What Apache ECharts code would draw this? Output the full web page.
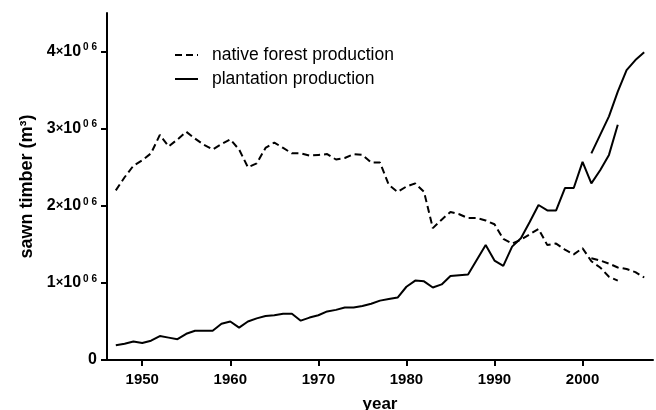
<!DOCTYPE html>
<html>
<head>
<meta charset="utf-8">
<script src="https://cdn.jsdelivr.net/npm/echarts@6/dist/echarts.min.js"></script>
<style>
  html, body { margin: 0; padding: 0; background: #fff; }
  #main { width: 656px; height: 410px; }
</style>
</head>
<body>
<div id="main"></div>
<script>
// years and values (m3)
const nativeYears = [1947,1948,1949,1950,1951,1952,1953,1954,1955,1956,1957,1958,1959,1960,
  1961,1962,1963,1964,1965,1966,1967,1968,1969,1970,1971,1972,1973,1974,1975,1976,1977,1978,
  1979,1980,1981,1982,1983,1984,1985,1986,1987,1988,1989,1990,1991,1992,1993,1994,1995,1996,
  1997,1998,1999,2000,2001,2002,2003,2004];
const nativeValues = [2.20,2.37,2.52,2.59,2.68,2.92,2.77,2.86,2.96,2.87,2.79,2.73,2.80,2.86,
  2.73,2.50,2.55,2.75,2.82,2.75,2.68,2.68,2.65,2.66,2.67,2.60,2.62,2.67,2.66,2.56,2.56,2.27,
  2.18,2.25,2.29,2.18,1.71,1.82,1.92,1.89,1.84,1.84,1.81,1.76,1.57,1.51,1.56,1.63,1.70,1.49,
  1.51,1.43,1.37,1.45,1.28,1.20,1.08,1.03];
// second source, overlapping the last years
const nativeYears2 = [2001,2002,2003,2004,2005,2006,2007];
const nativeValues2 = [1.32,1.29,1.25,1.20,1.18,1.14,1.07];

const plantYears = [1947,1948,1949,1950,1951,1952,1953,1954,1955,1956,1957,1958,1959,1960,
  1961,1962,1963,1964,1965,1966,1967,1968,1969,1970,1971,1972,1973,1974,1975,1976,1977,1978,
  1979,1980,1981,1982,1983,1984,1985,1986,1987,1988,1989,1990,1991,1992,1993,1994,1995,1996,
  1997,1998,1999,2000,2001,2002,2003,2004];
const plantValues = [0.19,0.21,0.24,0.22,0.25,0.31,0.29,0.27,0.34,0.38,0.38,0.38,0.47,0.50,
  0.42,0.50,0.54,0.57,0.58,0.60,0.60,0.51,0.55,0.58,0.63,0.65,0.68,0.68,0.70,0.73,0.77,0.79,
  0.81,0.95,1.03,1.02,0.94,0.98,1.09,1.10,1.11,1.30,1.49,1.29,1.22,1.47,1.58,1.79,2.01,1.94,
  1.94,2.23,2.23,2.57,2.29,2.46,2.66,3.05];
const plantYears2 = [2001,2002,2003,2004,2005,2006,2007];
const plantValues2 = [2.68,2.92,3.16,3.48,3.76,3.89,3.99];

const yearTicks = [1950,1960,1970,1980,1990,2000];
const valueTicks = [0,1e6,2e6,3e6,4e6];

const pairs = (xs, ys) => xs.map((x, i) => [x, ys[i] * 1e6]);

const chart = echarts.init(document.getElementById('main'));
const font = 'Arial, "Liberation Sans", sans-serif';

const option = {
  animation: false,
  grid: { left: 107, right: 3, top: 13, bottom: 50, outerBoundsMode: 'none' },
  legend: {
    data: ['native forest production', 'plantation production'],
    orient: 'vertical',
    left: 169,
    top: 41,
    itemWidth: 23,
    itemHeight: 14,
    itemGap: 6,
    itemStyle: { opacity: 0 },
    textStyle: { fontFamily: font, fontSize: 17.5, color: '#000', padding: [0, 0, 0, 9] }
  },
  xAxis: {
    type: 'value',
    min: 1946,
    max: 2008,
    name: 'year',
    nameLocation: 'middle',
    nameGap: 36,
    nameTextStyle: { fontFamily: font, fontSize: 17, fontWeight: 'bold', color: '#000' },
    axisLine: { lineStyle: { color: '#000', width: 2 } },
    axisTick: { customValues: yearTicks, length: 6, lineStyle: { color: '#000', width: 2 } },
    axisLabel: {
      customValues: yearTicks,
      formatter: v => String(v),
      fontFamily: font, fontSize: 15, fontWeight: 'bold', color: '#000', margin: 12
    },
    splitLine: { show: false }
  },
  yAxis: {
    type: 'value',
    min: 0,
    max: 4.5e6,
    name: 'sawn timber (m³)',
    nameLocation: 'middle',
    nameGap: 69,
    nameTextStyle: { fontFamily: font, fontSize: 18, fontWeight: 'bold', color: '#000' },
    axisLine: { show: true, lineStyle: { color: '#000', width: 2 } },
    axisTick: { show: true, customValues: valueTicks, length: 6, lineStyle: { color: '#000', width: 2 } },
    axisLabel: {
      customValues: valueTicks,
      margin: 10,
      formatter: v => v === 0 ? '{b|0}' : '{b|' + (v / 1e6) + '}{x|×}{b|10}{s|0 6}',
      rich: {
        b: { fontFamily: font, fontSize: 16, fontWeight: 'bold', color: '#000' },
        x: { fontFamily: font, fontSize: 13, fontWeight: 'bold', color: '#000' },
        s: { fontFamily: font, fontSize: 10, fontWeight: 'bold', color: '#000', padding: [0, 0, 8, 2] }
      }
    },
    splitLine: { show: false }
  },
  series: [
    {
      name: 'native forest production', type: 'line', data: pairs(nativeYears, nativeValues),
      showSymbol: false, symbol: 'none',
      lineStyle: { color: '#000', width: 2, type: [7, 4] }, itemStyle: { color: '#000' }
    },
    {
      name: 'native forest production', type: 'line', data: pairs(nativeYears2, nativeValues2),
      showSymbol: false, symbol: 'none',
      lineStyle: { color: '#000', width: 2, type: [7, 4] }, itemStyle: { color: '#000' }
    },
    {
      name: 'plantation production', type: 'line', data: pairs(plantYears, plantValues),
      showSymbol: false, symbol: 'none',
      lineStyle: { color: '#000', width: 2 }, itemStyle: { color: '#000' }
    },
    {
      name: 'plantation production', type: 'line', data: pairs(plantYears2, plantValues2),
      showSymbol: false, symbol: 'none',
      lineStyle: { color: '#000', width: 2 }, itemStyle: { color: '#000' }
    }
  ]
};

chart.setOption(option);
</script>
</body>
</html>
